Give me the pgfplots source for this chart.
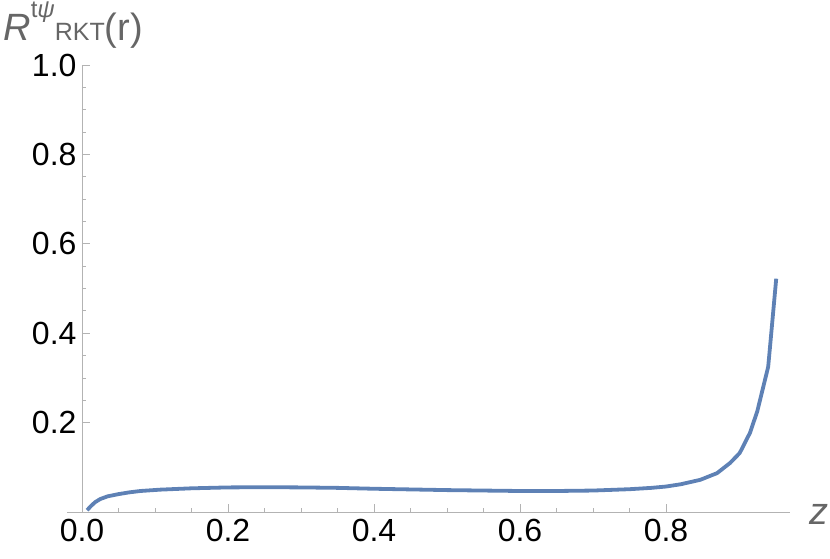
\documentclass[border=0pt]{standalone}
\usepackage{pgfplots}
\pgfplotsset{compat=1.18}
\usepackage{fontspec}
\setmainfont{Liberation Sans}
\definecolor{mmablue}{HTML}{5E81B5}
\definecolor{axgray}{HTML}{B3B3B3}
\definecolor{labgray}{HTML}{666666}
\begin{document}
\begin{tikzpicture}
\begin{axis}[
  at={(0pt,0pt)}, anchor=origin,
  scale only axis,
  width=722.7pt, height=447pt,
  axis lines=middle,
  axis line style={-, draw=axgray, line width=0.8pt},
  xmin=-0.02, xmax=0.97, ymin=0, ymax=1.0,
  xtick={0,0.2,0.4,0.6,0.8},
  ytick={0.2,0.4,0.6,0.8,1.0},
  minor tick num=3,
  hide obscured x ticks=false,
  hide obscured y ticks=false,
  tick align=inside,
  tick style={draw=axgray, line width=0.8pt},
  major tick length=8pt,
  minor tick length=4.5pt,
  /pgf/number format/assume math mode=true,
  /pgf/number format/.cd, fixed, fixed zerofill, precision=1,
  /pgfplots/.cd,
  ticklabel style={font=\fontsize{32}{34}\selectfont, text=black},
  xticklabel style={anchor=north, yshift=-4pt},
  yticklabel style={anchor=east, xshift=-2pt},
  clip=false,
]
\addplot[mmablue, line width=3.8pt, line join=round] coordinates {
(0.007,0.004) (0.012,0.013) (0.018,0.022) (0.025,0.029) (0.035,0.035) (0.05,0.040) (0.065,0.044)
(0.08,0.047) (0.107,0.050) (0.15,0.053) (0.2,0.055) (0.25,0.0555)
(0.3,0.055) (0.35,0.054) (0.4,0.052) (0.45,0.0505) (0.5,0.049)
(0.55,0.048) (0.6,0.047) (0.65,0.047) (0.7,0.048) (0.75,0.051)
(0.78,0.054) (0.8,0.057) (0.82,0.062) (0.847,0.072) (0.87,0.087)
(0.888,0.11) (0.901,0.132) (0.915,0.177) (0.925,0.225) (0.94,0.325)
(0.951,0.522)
};
\node[anchor=base west, inner sep=0pt, text=labgray] at (axis cs:-0.108,1.054)
  {\fontsize{38}{40}\selectfont\textit{R}\raisebox{23pt}{\fontsize{24}{24}\selectfont t\textit{ψ}}{\fontsize{25}{25}\selectfont RKT}(r)};
\node[anchor=base west, inner sep=0pt, text=labgray] at (axis cs:0.996,-0.029)
  {\fontsize{38}{40}\selectfont\textit{z}};
\end{axis}
\pgfresetboundingbox
\path[use as bounding box] (-82pt,-46pt) rectangle (748pt,512pt);
\end{tikzpicture}
\end{document}
